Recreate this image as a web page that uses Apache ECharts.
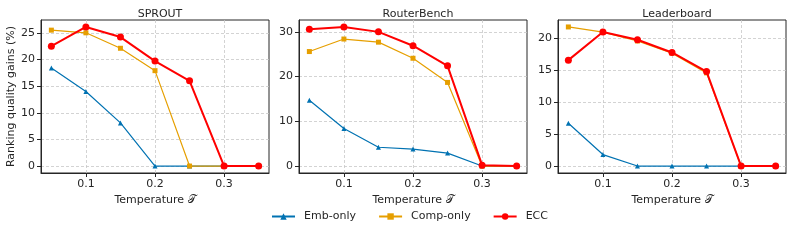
<!DOCTYPE html>
<html>
<head>
<meta charset="utf-8">
<script src="https://cdn.jsdelivr.net/npm/echarts@6/dist/echarts.min.js"></script>
<style>
  html, body { margin: 0; padding: 0; background: #fff; }
  #chart { width: 792px; height: 248px; }
</style>
</head>
<body>
<div id="chart"></div>
<script>
// temperatures on the x axis
const temps = [0.05, 0.1, 0.15, 0.2, 0.25, 0.3, 0.35]
const xTicks = [0.1, 0.2, 0.3]

const panels = ['SPROUT', 'RouterBench', 'Leaderboard']
const seriesNames = ['Emb-only', 'Comp-only', 'ECC']

// SPROUT
const sproutEmb = [18.4, 14.0, 8.1, 0, 0, 0, 0]
const sproutComp = [25.5, 25.0, 22.1, 17.9, 0, 0, 0]
const sproutEcc = [22.5, 26.1, 24.2, 19.7, 16.0, 0, 0]
const sproutTicks = [0, 5, 10, 15, 20, 25]

// RouterBench
const routerEmb = [14.7, 8.4, 4.2, 3.8, 2.9, 0, 0]
const routerComp = [25.6, 28.4, 27.7, 24.1, 18.7, 0, 0]
const routerEcc = [30.6, 31.1, 30.0, 26.9, 22.4, 0.2, 0]
const routerTicks = [0, 10, 20, 30]

// Leaderboard
const leaderEmb = [6.7, 1.8, 0, 0, 0, 0, 0]
const leaderComp = [21.8, 21.0, 19.6, 17.7, 14.6, 0, 0]
const leaderEcc = [16.6, 21.0, 19.8, 17.8, 14.8, 0, 0]
const leaderTicks = [0, 5, 10, 15, 20]

const panelData = [
  [sproutEmb, sproutComp, sproutEcc],
  [routerEmb, routerComp, routerEcc],
  [leaderEmb, leaderComp, leaderEcc]
]
const yTicks = [sproutTicks, routerTicks, leaderTicks]

const font = 'DejaVu Sans'
const textColor = '#262626'
const lefts = [41, 299, 558]
const gridW = 228

const styles = [
  { color: '#0072B2', symbol: 'triangle', symbolSize: 5, width: 1.2 },
  { color: '#E69F00', symbol: 'rect', symbolSize: 5, width: 1.2 },
  { color: '#FF0000', symbol: 'circle', symbolSize: 7, width: 2 }
]

function pad(vals) {
  const lo = Math.min(...vals)
  const hi = Math.max(...vals)
  const m = (hi - lo) * 0.05
  return [lo - m, hi + m]
}

const grids = []
const xAxes = []
const yAxes = []
const series = []
const titles = []

panels.forEach((name, i) => {
  grids.push({ left: lefts[i], top: 20, width: gridW, height: 153, show: true, borderColor: '#262626', borderWidth: 1 })
  titles.push({
    text: name,
    left: lefts[i] + gridW / 2,
    top: 4,
    textAlign: 'center',
    textStyle: { fontFamily: font, fontSize: 11, fontWeight: 'normal', color: textColor }
  })
  const xr = pad(temps)
  xAxes.push({
    type: 'value',
    gridIndex: i,
    min: xr[0],
    max: xr[1],
    name: 'Temperature 𝒯',
    nameLocation: 'middle',
    nameGap: 21,
    nameTextStyle: { fontFamily: font, fontSize: 11, color: textColor },
    axisLine: { show: true, onZero: false, lineStyle: { color: '#262626' } },
    axisTick: { show: true, length: 4, customValues: xTicks, lineStyle: { color: '#262626' } },
    axisLabel: { customValues: xTicks, margin: 6, fontFamily: font, fontSize: 11, color: textColor, formatter: v => v.toFixed(1) },
    splitLine: { show: true, lineStyle: { color: '#c8c8c8', type: [3, 2], width: 0.8 } }
  })
  const allY = [].concat(...panelData[i])
  const yr = pad(allY)
  yAxes.push({
    type: 'value',
    gridIndex: i,
    min: yr[0],
    max: yr[1],
    name: i === 0 ? 'Ranking quality gains (%)' : '',
    nameLocation: 'middle',
    nameGap: 24,
    nameTextStyle: { fontFamily: font, fontSize: 11, color: textColor },
    axisLine: { show: true, onZero: false, lineStyle: { color: '#262626' } },
    axisTick: { show: true, length: 4, customValues: yTicks[i], lineStyle: { color: '#262626' } },
    axisLabel: { customValues: yTicks[i], margin: 6, fontFamily: font, fontSize: 11, color: textColor },
    splitLine: { show: true, lineStyle: { color: '#c8c8c8', type: [3, 2], width: 0.8 } }
  })
  panelData[i].forEach((vals, k) => {
    const s = styles[k]
    series.push({
      name: seriesNames[k],
      type: 'line',
      xAxisIndex: i,
      yAxisIndex: i,
      data: temps.map((t, j) => [t, vals[j]]),
      symbol: s.symbol,
      symbolSize: s.symbolSize,
      showAllSymbol: true,
      lineStyle: { color: s.color, width: s.width },
      itemStyle: { color: s.color },
      z: 2 + k,
      animation: false
    })
  })
})

const chart = echarts.init(document.getElementById('chart'), null, { renderer: 'canvas' })
chart.setOption({
  animation: false,
  title: titles,
  grid: grids,
  xAxis: xAxes,
  yAxis: yAxes,
  legend: {
    data: seriesNames,
    top: 206,
    left: 266,
    itemWidth: 23,
    itemHeight: 8,
    itemGap: 22,
    textStyle: { fontFamily: font, fontSize: 11, color: textColor, padding: [0, 0, 0, 4] }
  },
  series: series
})
</script>
</body>
</html>
